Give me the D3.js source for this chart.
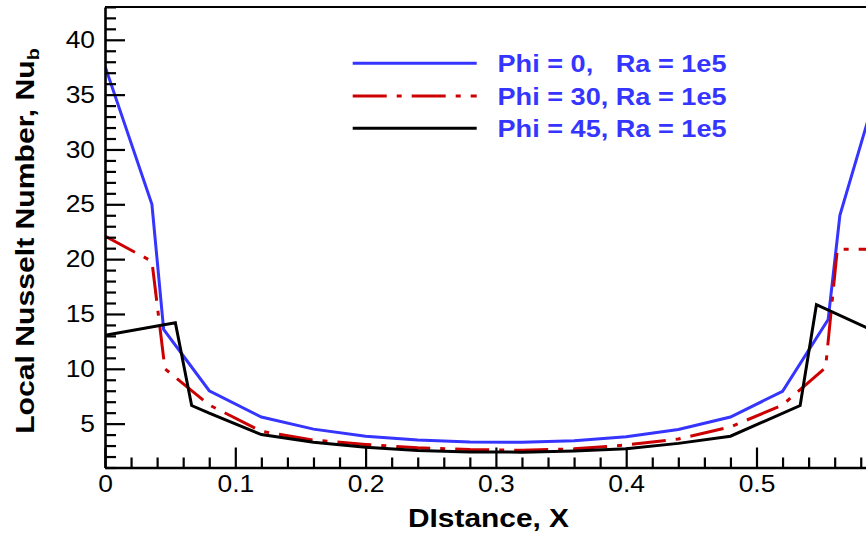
<!DOCTYPE html>
<html>
<head>
<meta charset="utf-8">
<script src="https://cdn.jsdelivr.net/npm/d3@7"></script>
<style>
  html, body { margin: 0; padding: 0; background: #fff; overflow: hidden; }
  svg { display: block; font-family: "Liberation Sans", Arial, sans-serif; }
</style>
</head>
<body>
<svg id="chart" width="866" height="535"></svg>
<script>
// ---- data ----
const xPhi0  = [0, 0.036, 0.045, 0.08, 0.12, 0.16, 0.2, 0.24, 0.28, 0.32, 0.36, 0.4, 0.44, 0.48, 0.52, 0.555, 0.564, 0.6];
const nuPhi0 = [37.6, 25.0, 13.6, 8.0, 5.6, 4.5, 3.85, 3.5, 3.33, 3.3, 3.45, 3.8, 4.46, 5.6, 7.95, 14.5, 24.0, 38.5];

const xPhi30  = [0, 0.036, 0.046, 0.08, 0.12, 0.16, 0.2, 0.24, 0.28, 0.32, 0.36, 0.4, 0.44, 0.48, 0.52, 0.553, 0.562, 0.6];
const nuPhi30 = [22.1, 19.8, 10.0, 6.7, 4.3, 3.5, 3.1, 2.8, 2.63, 2.57, 2.7, 3.05, 3.6, 4.7, 6.7, 10.1, 20.9, 20.9];

const xPhi45  = [0, 0.054, 0.0665, 0.08, 0.12, 0.16, 0.2, 0.24, 0.28, 0.32, 0.36, 0.4, 0.44, 0.48, 0.5335, 0.546, 0.6];
const nuPhi45 = [13.05, 14.2, 6.65, 5.95, 4.0, 3.3, 2.85, 2.55, 2.42, 2.4, 2.5, 2.7, 3.2, 3.85, 6.65, 15.85, 12.9];

const seriesLabels = ["Phi = 0,   Ra = 1e5", "Phi = 30, Ra = 1e5", "Phi = 45, Ra = 1e5"];
const xTicks = [0, 0.1, 0.2, 0.3, 0.4, 0.5];
const yTicks = [5, 10, 15, 20, 25, 30, 35, 40];
const xTitle = "DIstance, X";
const yTitle = "Local Nusselt Number, Nu";
const yTitleSub = "b";

// ---- layout ----
const svg = d3.select("#chart");
const pLeft = 105, pRight = 886.8, pTop = 6.9, pBottom = 467.5;
const x = d3.scaleLinear().domain([0, 0.6]).range([pLeft, pRight]);
const y = d3.scaleLinear().domain([1, 43]).range([pBottom, pTop]);

const font = "'Liberation Sans', Arial, sans-serif";
const stretch = function (f) {
  return sel => sel.each(function () {
    const w = this.getComputedTextLength();
    d3.select(this).attr("textLength", w * f).attr("lengthAdjust", "spacingAndGlyphs");
  });
};

// clip
svg.append("clipPath").attr("id", "plotclip")
  .append("rect").attr("x", pLeft).attr("y", pTop).attr("width", pRight - pLeft).attr("height", pBottom - pTop);

// series
const series = [
  { xs: xPhi0,  ys: nuPhi0,  color: "#3535ff", dash: null,          width: 3 },
  { xs: xPhi30, ys: nuPhi30, color: "#cc0000", dash: "34,10,5,10",  width: 3 },
  { xs: xPhi45, ys: nuPhi45, color: "#000000", dash: null,          width: 3 }
];
const line = d3.line().x(d => x(d[0])).y(d => y(d[1]));
const g = svg.append("g").attr("clip-path", "url(#plotclip)");
series.forEach(s => {
  g.append("path")
    .datum(s.xs.map((v, i) => [v, s.ys[i]]))
    .attr("d", line)
    .attr("fill", "none")
    .attr("stroke", s.color)
    .attr("stroke-width", s.width)
    .attr("stroke-linejoin", "miter")
    .attr("stroke-dasharray", s.dash);
});

// minor ticks
const xMinor = d3.range(0, 0.6001, 0.02).filter(v => Math.abs(v * 10 - Math.round(v * 10)) > 1e-6);
const yMinor = d3.range(1, 43.001, 1).filter(v => v % 5 !== 0);

const xAxisMinor = d3.axisBottom(x).tickValues(xMinor).tickSize(-10).tickSizeOuter(0).tickFormat("");
const yAxisMinor = d3.axisLeft(y).tickValues(yMinor).tickSize(-11).tickSizeOuter(0).tickFormat("");
svg.append("g").attr("transform", `translate(0,${pBottom})`).call(xAxisMinor)
  .call(a => a.select(".domain").remove())
  .selectAll("line").attr("stroke-width", 2.2);
svg.append("g").attr("transform", `translate(${pLeft},0)`).call(yAxisMinor)
  .call(a => a.select(".domain").remove())
  .selectAll("line").attr("stroke-width", 2.2);

// major axes
const xAxis = d3.axisBottom(x).tickValues(xTicks).tickSize(-20).tickSizeOuter(0).tickPadding(7)
  .tickFormat(d => d === 0 ? "0" : d3.format(".1f")(d));
const yAxis = d3.axisLeft(y).tickValues(yTicks).tickSize(-20).tickSizeOuter(0).tickPadding(10)
  .tickFormat(d3.format("d"));

const gx = svg.append("g").attr("transform", `translate(0,${pBottom})`).call(xAxis);
gx.selectAll("line").attr("stroke-width", 2.2);
gx.select(".domain").attr("stroke-width", 2.6);
gx.selectAll("text").attr("font-size", 24).attr("font-family", font).attr("fill", "#000").call(stretch(1.1));

const gy = svg.append("g").attr("transform", `translate(${pLeft},0)`).call(yAxis);
gy.selectAll("line").attr("stroke-width", 2.2);
gy.select(".domain").attr("stroke-width", 2.6);
gy.selectAll("text").attr("font-size", 24).attr("font-family", font).attr("fill", "#000").call(stretch(1.1));

// top border
svg.append("line").attr("x1", pLeft).attr("x2", pRight).attr("y1", pTop).attr("y2", pTop)
  .attr("stroke", "#000").attr("stroke-width", 2);

// axis titles
svg.append("text").attr("transform", "translate(488.5,527) scale(1.15,1)").attr("text-anchor", "middle")
  .attr("font-size", 26).attr("font-weight", "bold").attr("font-family", font).text(xTitle);

const yt = svg.append("text").attr("transform", "translate(34,241) rotate(-90) scale(1.16,1)")
  .attr("text-anchor", "middle").attr("font-size", 26).attr("font-weight", "bold").attr("font-family", font);
yt.append("tspan").text(yTitle);
yt.append("tspan").attr("font-size", 17).attr("dy", 5).text(yTitleSub);

// legend
const legY = [63.3, 96, 128.3];
series.forEach((s, i) => {
  svg.append("line").attr("x1", 352.7).attr("x2", 476.7).attr("y1", legY[i]).attr("y2", legY[i])
    .attr("stroke", s.color).attr("stroke-width", s.width).attr("stroke-dasharray", s.dash);
  svg.append("text").attr("transform", `translate(497.5,${legY[i] + 8.7}) scale(1.13,1)`)
    .attr("font-size", 24).attr("font-weight", "bold").attr("font-family", font)
    .attr("fill", "#3535ff").style("white-space", "pre").text(seriesLabels[i]);
});
</script>
</body>
</html>
